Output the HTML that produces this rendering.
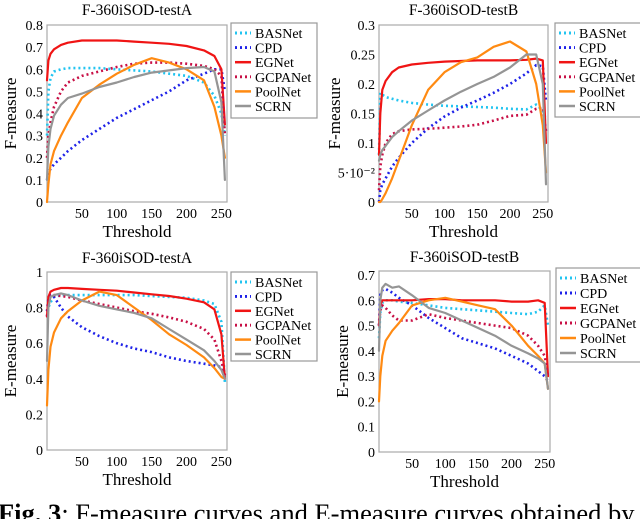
<!DOCTYPE html>
<html><head><meta charset="utf-8"><style>
html,body{margin:0;padding:0;background:#fff;}
svg{display:block;}
svg text{font-family:"Liberation Serif","Times New Roman",serif;}
</style></head><body>
<svg id="fig" width="640" height="519" viewBox="0 0 640 519" xmlns="http://www.w3.org/2000/svg" font-family="Liberation Serif, serif">
<text x="-2" y="522" font-size="26.5" fill="#000"><tspan font-weight="bold">Fig. 3</tspan>: F-measure curves and E-measure curves obtained by</text>
</svg>
<script>
const thresholds = [0,2,5,10,20,30,50,75,100,125,150,175,200,225,240,250,255];
const seriesNames = ["BASNet","CPD","EGNet","GCPANet","PoolNet","SCRN"];
const xTicks = [50,100,150,200,250];

const fA_BASNet = [0.3,0.5,0.56,0.59,0.6,0.605,0.605,0.605,0.6,0.595,0.59,0.58,0.57,0.54,0.48,0.4,0.3];
const fA_CPD = [0.1,0.13,0.15,0.17,0.2,0.23,0.28,0.33,0.38,0.42,0.46,0.5,0.55,0.58,0.6,0.6,0.5];
const fA_EGNet = [0.55,0.64,0.67,0.69,0.71,0.72,0.73,0.73,0.73,0.725,0.72,0.715,0.705,0.685,0.66,0.6,0.35];
const fA_GCPANet = [0.2,0.3,0.36,0.43,0.5,0.54,0.57,0.59,0.61,0.625,0.63,0.63,0.625,0.615,0.6,0.57,0.3];
const fA_PoolNet = [0,0.08,0.17,0.23,0.3,0.36,0.47,0.53,0.58,0.62,0.65,0.63,0.6,0.55,0.43,0.3,0.2];
const fA_SCRN = [0.1,0.25,0.33,0.39,0.44,0.47,0.49,0.52,0.54,0.565,0.585,0.595,0.605,0.61,0.59,0.45,0.1];

const fB_BASNet = [0.08,0.185,0.182,0.178,0.175,0.172,0.168,0.165,0.163,0.162,0.161,0.16,0.158,0.157,0.165,0.155,0.14];
const fB_CPD = [0,0.02,0.03,0.04,0.06,0.075,0.1,0.125,0.145,0.16,0.172,0.185,0.2,0.218,0.232,0.23,0.17];
const fB_EGNet = [0.08,0.15,0.19,0.205,0.22,0.228,0.233,0.236,0.238,0.239,0.24,0.24,0.24,0.241,0.243,0.24,0.1];
const fB_GCPANet = [0.02,0.06,0.08,0.1,0.115,0.12,0.123,0.124,0.126,0.128,0.131,0.138,0.146,0.148,0.158,0.16,0.12];
const fB_PoolNet = [0,0,0.005,0.015,0.04,0.07,0.13,0.19,0.22,0.237,0.245,0.263,0.272,0.255,0.2,0.13,0.05];
const fB_SCRN = [0.07,0.08,0.088,0.095,0.11,0.12,0.138,0.155,0.172,0.187,0.2,0.212,0.228,0.25,0.25,0.2,0.03];

const eA_BASNet = [0.75,0.8,0.83,0.86,0.87,0.87,0.87,0.87,0.87,0.87,0.865,0.86,0.855,0.84,0.82,0.72,0.38];
const eA_CPD = [0.78,0.85,0.87,0.86,0.8,0.75,0.69,0.64,0.6,0.57,0.55,0.52,0.5,0.485,0.475,0.465,0.4];
const eA_EGNet = [0.75,0.86,0.89,0.9,0.91,0.91,0.905,0.9,0.895,0.885,0.875,0.865,0.85,0.83,0.79,0.65,0.4];
const eA_GCPANet = [0.75,0.85,0.87,0.87,0.865,0.86,0.84,0.82,0.8,0.78,0.765,0.745,0.72,0.68,0.62,0.5,0.42];
const eA_PoolNet = [0.25,0.45,0.58,0.66,0.74,0.78,0.84,0.89,0.87,0.8,0.73,0.65,0.59,0.52,0.46,0.41,0.4];
const eA_SCRN = [0.5,0.8,0.86,0.87,0.88,0.87,0.84,0.81,0.79,0.77,0.74,0.68,0.62,0.56,0.5,0.45,0.4];

const eB_BASNet = [0.45,0.55,0.59,0.6,0.6,0.595,0.59,0.58,0.57,0.565,0.56,0.555,0.55,0.545,0.555,0.58,0.5];
const eB_CPD = [0.5,0.62,0.64,0.645,0.63,0.61,0.58,0.53,0.49,0.45,0.43,0.41,0.38,0.35,0.32,0.3,0.28];
const eB_EGNet = [0.5,0.58,0.6,0.6,0.6,0.6,0.6,0.605,0.605,0.6,0.6,0.6,0.595,0.595,0.6,0.59,0.3];
const eB_GCPANet = [0.5,0.56,0.58,0.57,0.54,0.52,0.52,0.545,0.53,0.52,0.51,0.5,0.49,0.46,0.42,0.38,0.3];
const eB_PoolNet = [0.2,0.3,0.38,0.44,0.48,0.51,0.58,0.6,0.61,0.595,0.58,0.565,0.5,0.42,0.38,0.35,0.25];
const eB_SCRN = [0.4,0.6,0.65,0.665,0.65,0.655,0.62,0.57,0.55,0.52,0.49,0.46,0.42,0.39,0.37,0.35,0.25];

const ticksFA = [0,0.1,0.2,0.3,0.4,0.5,0.6,0.7,0.8];
const tickLabelsFA = ["0","0.1","0.2","0.3","0.4","0.5","0.6","0.7","0.8"];
const ticksFB = [0,0.05,0.1,0.15,0.2,0.25,0.3];
const tickLabelsFB = ["0","5·10⁻²","0.1","0.15","0.2","0.25","0.3"];
const ticksEA = [0,0.2,0.4,0.6,0.8,1];
const tickLabelsEA = ["0","0.2","0.4","0.6","0.8","1"];
const ticksEB = [0,0.1,0.2,0.3,0.4,0.5,0.6,0.7];
const tickLabelsEB = ["0","0.1","0.2","0.3","0.4","0.5","0.6","0.7"];

const styles = {
  BASNet:{c:"#22c4f0",d:"2 3",w:2.6},
  CPD:{c:"#1f22e8",d:"2 3",w:2.6},
  EGNet:{c:"#f01414",d:"",w:2.2},
  GCPANet:{c:"#c81046",d:"2 3",w:2.6},
  PoolNet:{c:"#ff8a12",d:"",w:2.2},
  SCRN:{c:"#959595",d:"",w:2.2}
};
const NS="http://www.w3.org/2000/svg";
const svg=document.getElementById('fig');
function el(tag,attrs,parent){const e=document.createElementNS(NS,tag);for(const k in attrs)e.setAttribute(k,attrs[k]);(parent||svg).appendChild(e);return e;}

function panel(id,cfg){
  const g=el('g',{});
  
  
  const xs=v=>cfg.x0+(v/258)*(cfg.x1-cfg.x0);
  const ys=v=>cfg.yb-(v/cfg.ymax)*(cfg.yb-cfg.yt);
  const box=el('rect',{x:cfg.x0,y:cfg.yt,width:cfg.x1-cfg.x0,height:cfg.yb-cfg.yt,fill:"#fff",stroke:"#aaa","stroke-width":1.2},g);
  
  
  const t=el('text',{x:(cfg.x0+cfg.x1)/2,y:cfg.titleY,"text-anchor":"middle","font-size":15.5},g);
  t.textContent=cfg.title;
  
  
  cfg.ticks.forEach((v,i)=>{
    const l=el('text',{x:cfg.x0-4,y:ys(v)+5,"text-anchor":"end","font-size":14},g);
    l.textContent=cfg.tickLabels[i];
    
    
  });
  xTicks.forEach(v=>{
    const l=el('text',{x:xs(v),y:cfg.yb+16,"text-anchor":"middle","font-size":14},g);
    l.textContent=String(v);
    
    
  });
  const xl=el('text',{x:(cfg.x0+cfg.x1)/2,y:cfg.yb+35,"text-anchor":"middle","font-size":17},g);
  xl.textContent="Threshold";
  
  
  const cy=(cfg.yt+cfg.yb)/2, lx=cfg.yLabelX;
  const yl=el('text',{x:lx,y:cy,"text-anchor":"middle","font-size":17,transform:`rotate(-90 ${lx} ${cy})`},g);
  yl.textContent=cfg.ylabel;
  
  
  seriesNames.forEach((n,si)=>{
    const vals=cfg.data[si];
    const pts=thresholds.map((x,i)=>xs(x).toFixed(1)+","+ys(vals[i]).toFixed(1)).join(" ");
    const s=styles[n];
    const p=el('polyline',{points:pts,fill:"none",stroke:s.c,"stroke-width":s.w,"stroke-dasharray":s.d,"stroke-linejoin":"round","stroke-linecap":s.d?"butt":"round"},g);
    
    
  });
  const lg=el('rect',{x:cfg.lx,y:cfg.ly,width:86,height:cfg.lh,fill:"#fff",stroke:"#999","stroke-width":1.2},g);
  
  
  seriesNames.forEach((n,i)=>{
    const y=cfg.ly+10+i*cfg.lstep, s=styles[n];
    const ln=el('line',{x1:cfg.lx+4,x2:cfg.lx+20,y1:y,y2:y,stroke:s.c,"stroke-width":s.w+0.3,"stroke-dasharray":s.d},g);
    
    
    const tx=el('text',{x:cfg.lx+24,y:y+5,"font-size":14},g);
    tx.textContent=n;
    
    
  });
}
panel('f-testa',{x0:47,x1:227,yt:25,yb:202,ymax:0.8,ticks:ticksFA,tickLabels:tickLabelsFA,title:"F-360iSOD-testA",titleY:15,ylabel:"F-measure",yLabelX:16,lx:231,ly:23,lh:95,lstep:14.6,
  data:[fA_BASNet,fA_CPD,fA_EGNet,fA_GCPANet,fA_PoolNet,fA_SCRN]});
panel('f-testb',{x0:379,x1:548,yt:25,yb:202,ymax:0.3,ticks:ticksFB,tickLabels:tickLabelsFB,title:"F-360iSOD-testB",titleY:15,ylabel:"F-measure",yLabelX:340,lx:555,ly:23,lh:94,lstep:14.6,
  data:[fB_BASNet,fB_CPD,fB_EGNet,fB_GCPANet,fB_PoolNet,fB_SCRN]});
panel('e-testa',{x0:47,x1:227,yt:272,yb:450,ymax:1,ticks:ticksEA,tickLabels:tickLabelsEA,title:"F-360iSOD-testA",titleY:263,ylabel:"E-measure",yLabelX:16,lx:231,ly:272,lh:89,lstep:14.4,
  data:[eA_BASNet,eA_CPD,eA_EGNet,eA_GCPANet,eA_PoolNet,eA_SCRN]});
panel('e-testb',{x0:379,x1:550,yt:271,yb:452,ymax:0.716,ticks:ticksEB,tickLabels:tickLabelsEB,title:"F-360iSOD-testB",titleY:262,ylabel:"E-measure",yLabelX:348,lx:556,ly:268,lh:94,lstep:15,
  data:[eB_BASNet,eB_CPD,eB_EGNet,eB_GCPANet,eB_PoolNet,eB_SCRN]});
</script>
</body></html>
